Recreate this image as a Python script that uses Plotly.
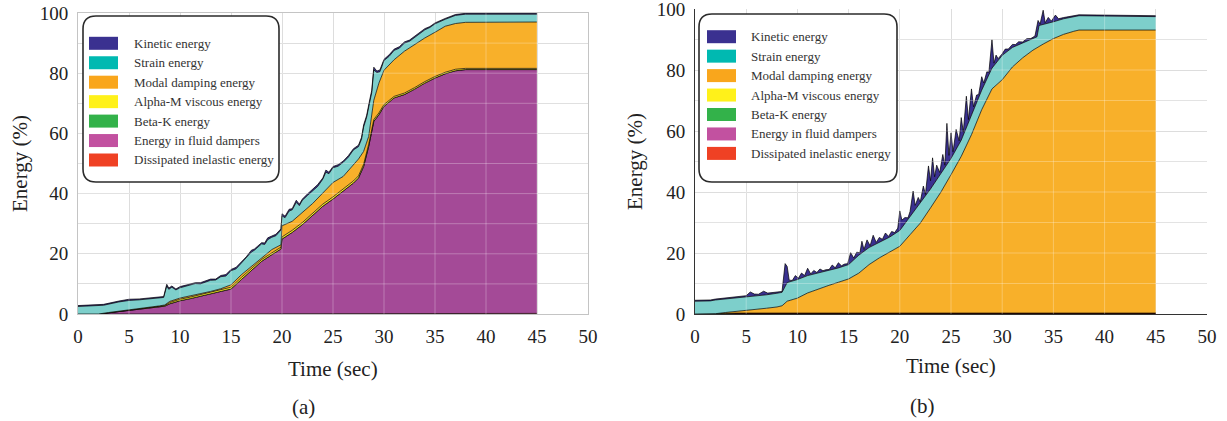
import numpy as np
import plotly.graph_objects as go

# ---------------- data: panel (a) ----------------
t_a = [0, 1, 2, 3, 4, 5, 6, 7, 8, 8.5,
       9, 10, 11, 12, 13, 14, 15, 16, 17, 18,
       19, 19.9, 20, 21, 22, 23, 24, 25, 26, 27,
       27.5, 28, 28.5, 29, 29.5, 30, 31, 32, 33, 34,
       35, 36, 37, 38, 45]
inelastic_top_a = [0, 0, 0, 0.1, 0.2, 0.2, 0.2, 0.2, 0.2, 0.2,
                   0.2, 0.2, 0.2, 0.2, 0.2, 0.2, 0.2, 0.2, 0.2, 0.2,
                   0.2, 0.2, 0.2, 0.2, 0.2, 0.2, 0.2, 0.2, 0.2, 0.2,
                   0.2, 0.2, 0.2, 0.2, 0.2, 0.2, 0.2, 0.2, 0.2, 0.2,
                   0.2, 0.2, 0.2, 0.2, 0.2]
fluid_top_a = [0, 0, 0, 0.4, 0.8, 1.1, 1.5, 1.9, 2.3, 2.6,
               3.4, 4.4, 5.1, 5.9, 6.6, 7.5, 8.3, 11.4, 14.5, 17.5,
               19.7, 21.6, 24.9, 27.1, 29.7, 32.7, 35.8, 38.2, 40.8, 43.5,
               45.2, 49.0, 55.7, 64.0, 66.2, 69.0, 71.8, 72.9, 74.7, 76.7,
               78.4, 79.8, 80.8, 81.2, 81.2]
betak_top_a = fluid_top_a
alpham_top_a = [0, 0, 0, 0.4, 0.8, 1.2, 1.6, 2.0, 2.5, 2.8,
                3.8, 4.9, 5.6, 6.4, 7.1, 8.0, 8.9, 12.1, 15.1, 18.1,
                20.3, 22.2, 25.6, 27.8, 30.4, 33.4, 36.5, 38.9, 41.5, 44.2,
                45.9, 49.7, 56.4, 64.6, 66.8, 69.6, 72.3, 73.4, 75.2, 77.2,
                78.9, 80.3, 81.3, 81.6, 81.6]
modal_top_a = [0, 0, 0, 0.5, 0.9, 1.3, 1.7, 2.2, 2.7, 3.0,
               4.2, 5.3, 6.0, 6.8, 7.5, 8.4, 9.7, 13.0, 15.8, 18.6,
               21.4, 23.0, 29.3, 30.8, 33.8, 36.7, 40.2, 43.7, 45.7, 49.6,
               51.5, 54.0, 59.0, 71.0, 76.7, 81.0, 84.5, 87.3, 89.5, 91.7,
               93.6, 95.6, 96.5, 96.9, 97.0]
t_a_fine = [0, 2, 2.5, 4, 5, 6, 7, 8.4, 8.7, 8.9,
            9.2, 9.6, 10, 10.5, 11, 11.5, 12, 12.5, 13, 13.5,
            14, 14.5, 15, 15.5, 16, 16.5, 17, 17.3, 17.6, 18,
            18.3, 18.6, 19, 19.4, 19.9, 20, 20.3, 20.7, 21, 21.4,
            21.7, 22, 22.5, 23, 23.5, 24, 24.3, 24.6, 25, 25.5,
            26, 26.5, 27, 27.5, 27.8, 28, 28.3, 28.6, 28.8, 29,
            29.3, 29.6, 30, 30.5, 31, 31.5, 32, 32.5, 33, 33.5,
            34, 34.5, 35, 36, 37, 38, 45]
strain_top_a = [2.5, 2.7, 2.9, 4.0, 4.5, 4.7, 5.1, 5.5, 9.3, 8.2,
                8.9, 8.0, 8.7, 9.2, 9.5, 10.1, 10.0, 10.5, 11.2, 11.3,
                12.4, 12.6, 14.4, 15.0, 16.8, 18.5, 20.6, 21.2, 22.0, 23.3,
                23.1, 24.7, 25.5, 26.0, 27.9, 32.6, 32.0, 34.2, 34.6, 37.1,
                36.0, 37.8, 39.4, 40.9, 42.4, 44.8, 47.1, 46.6, 48.6, 49.1,
                50.4, 52.1, 54.5, 55.6, 58.1, 62.1, 65.4, 70.4, 73.6, 81.1,
                80.2, 80.5, 84.2, 85.6, 87.6, 88.3, 90.0, 90.6, 91.9, 93.2,
                94.4, 95.2, 96.4, 97.9, 99.2, 99.6, 99.6]
kinetic_a = [0.3, 0.3, 0.3, 0.3, 0.4, 0.3, 0.3, 0.3, 0.6, 0.4,
             0.4, 0.3, 0.4, 0.3, 0.4, 0.3, 0.4, 0.5, 0.4, 0.3,
             0.4, 0.5, 0.4, 0.5, 0.4, 0.5, 0.6, 0.4, 0.5, 0.4,
             0.5, 0.6, 0.4, 0.5, 0.4, 0.7, 0.5, 0.6, 0.4, 0.7,
             0.5, 0.4, 0.5, 0.4, 0.6, 0.4, 0.7, 0.5, 0.4, 0.5,
             0.4, 0.5, 0.4, 0.5, 0.6, 0.7, 0.6, 0.8, 0.7, 0.9,
             0.5, 0.6, 0.4, 0.5, 0.4, 0.5, 0.4, 0.4, 0.4, 0.4,
             0.4, 0.3, 0.3, 0.3, 0.3, 0.3, 0.3]

# ---------------- data: panel (b) ----------------
t_b = [0, 1, 1.5, 2, 3, 4, 5, 6, 7, 8,
       8.5, 9, 10, 11, 12, 13, 14, 15, 16, 17,
       18, 19, 20, 21, 22, 23, 24, 25, 26, 27,
       28, 29, 30, 31, 32, 33, 33.4, 33.6, 34, 35,
       36, 37, 37.5, 45]
inelastic_top_b = [0, 0, 0, 0.1, 0.2, 0.3, 0.3, 0.3, 0.3, 0.3,
                   0.3, 0.3, 0.3, 0.3, 0.3, 0.3, 0.3, 0.3, 0.3, 0.3,
                   0.3, 0.3, 0.3, 0.3, 0.3, 0.3, 0.3, 0.3, 0.3, 0.3,
                   0.3, 0.3, 0.3, 0.3, 0.3, 0.3, 0.3, 0.3, 0.3, 0.3,
                   0.3, 0.3, 0.3, 0.3]
fluid_top_b = inelastic_top_b
betak_top_b = inelastic_top_b
alpham_top_b = inelastic_top_b
modal_top_b = [0, 0, 0, 0.1, 0.5, 0.8, 1.1, 1.5, 1.9, 2.3,
               2.7, 4.2, 5.2, 6.9, 8.2, 9.3, 10.4, 11.5, 13.4, 16.2,
               18.4, 20.2, 22.2, 26.0, 29.8, 34.8, 39.9, 45.7, 51.7, 58.8,
               67.0, 73.8, 76.8, 81.0, 84.0, 86.5, 87.2, 87.6, 88.5, 90.3,
               91.7, 92.7, 93.1, 93.1]
strain_top_b = [4.2, 4.2, 4.3, 4.6, 4.9, 5.2, 5.6, 5.9, 6.3, 6.8,
                7.1, 10.3, 11.3, 12.6, 13.4, 14.2, 15.1, 16.2, 19.3, 21.8,
                23.6, 25.2, 27.4, 31.8, 36.2, 41.0, 46.0, 51.0, 57.0, 65.2,
                73.4, 80.6, 84.8, 87.4, 88.8, 90.2, 90.9, 94.6, 94.9, 95.8,
                96.8, 97.5, 97.8, 97.5]
t_b_fine = [0, 1, 1.5, 2, 3, 4, 5, 5.4, 5.8, 6.2,
            6.7, 7.1, 8, 8.5, 8.8, 9.0, 9.2, 9.5, 9.8, 10.1,
            10.4, 10.7, 11.0, 11.3, 11.6, 11.9, 12.2, 12.5, 12.8, 13.1,
            13.4, 13.7, 14.0, 14.3, 14.6, 14.9, 15.2, 15.5, 15.8, 16.1,
            16.3, 16.5, 16.8, 17.1, 17.4, 17.7, 18.0, 18.3, 18.6, 18.9,
            19.2, 19.5, 19.8, 20.0, 20.2, 20.5, 20.8, 21.0, 21.3, 21.5,
            21.8, 22.0, 22.3, 22.5, 22.8, 23.0, 23.2, 23.4, 23.6, 23.9,
            24.2, 24.4, 24.6, 24.8, 25.0, 25.2, 25.5, 25.8, 26.0, 26.2,
            26.5, 26.7, 27.0, 27.2, 27.5, 27.7, 28.0, 28.2, 28.5, 28.7,
            29.0, 29.2, 29.4, 29.6, 30.0, 30.3, 30.6, 31.0, 31.3, 31.6,
            32.0, 32.4, 32.8, 33.2, 33.5, 33.7, 34.0, 34.2, 34.5, 34.8,
            35.2, 35.5, 36.0, 36.5, 37.0, 37.5, 45]
kinetic_b = [0.3, 0.3, 0.3, 0.3, 0.3, 0.3, 0.4, 1.5, 0.7, 0.5,
             1.3, 0.5, 0.3, 0.3, 7.5, 5.3, 0.6, 0.2, 1.5, 0.3,
             1.6, 0.4, 2.4, 0.3, 1.2, 0.3, 1.2, 0.4, 0.5, 0.3,
             1.5, 0.3, 1.7, 0.4, 0.6, 0.4, 3.3, 0.6, 1.6, 0.5,
             3.8, 0.6, 3.0, 0.4, 3.3, 0.4, 1.5, 0.4, 2.0, 0.4,
             1.4, 0.4, 1.2, 6.4, 2.5, 2.0, 0.6, 1.8, 7.2, 1.6,
             2.9, 0.6, 4.3, 0.6, 8.5, 2.7, 9.2, 2.0, 4.8, 0.9,
             5.3, 0.8, 13.5, 2.0, 8.4, 1.0, 6.5, 1.0, 7.4, 1.0,
             10.3, 1.0, 8.6, 1.1, 2.5, 1.0, 4.4, 0.9, 2.4, 0.8,
             9.3, 0.8, 2.6, 0.6, 0.5, 1.3, 0.5, 1.0, 0.5, 1.0,
             0.4, 0.9, 0.4, 0.6, 3.5, 0.4, 4.7, 0.4, 1.9, 0.4,
             2.0, 0.5, 0.4, 0.4, 0.3, 0.3, 0.3]

legend_names = ["Kinetic energy", "Strain energy", "Modal damping energy",
                "Alpha-M viscous energy", "Beta-K energy",
                "Energy in fluid dampers", "Dissipated inelastic energy"]
legend_colors = ["#3a3190", "#00b9b1", "#f9a61c", "#fff11a", "#33b24a",
                 "#c251a0", "#ef4124"]
area_colors = {"Kinetic energy": "#3a3190", "Strain energy": "#7dcfcb",
               "Modal damping energy": "#f8b02a",
               "Alpha-M viscous energy": "#fcee21", "Beta-K energy": "#33b14b",
               "Energy in fluid dampers": "#a44a97",
               "Dissipated inelastic energy": "#ee4023"}

x_ticks = [0, 5, 10, 15, 20, 25, 30, 35, 40, 45, 50]
y_ticks = [0, 20, 40, 60, 80, 100]

W, H = 1227, 421
FONT = "Liberation Serif"


def px(x):
    return x / W


def py(y):
    return 1 - y / H


fig = go.Figure()


def add_panel(xa, ya, layers):
    first = True
    for name, xs, ys in layers:
        fig.add_trace(go.Scatter(
            x=xs, y=ys, name=name, mode="lines",
            line=dict(color="black", width=0.7),
            fill="tozeroy" if first else "tonexty",
            fillcolor=area_colors[name], showlegend=False,
            xaxis=xa, yaxis=ya, hoverinfo="skip"))
        first = False


top_a = (np.array(strain_top_a) + np.array(kinetic_a)).tolist()
add_panel("x", "y", [
    ("Dissipated inelastic energy", t_a, inelastic_top_a),
    ("Energy in fluid dampers", t_a, fluid_top_a),
    ("Beta-K energy", t_a, betak_top_a),
    ("Alpha-M viscous energy", t_a, alpham_top_a),
    ("Modal damping energy", t_a, modal_top_a),
    ("Strain energy", t_a_fine, strain_top_a),
    ("Kinetic energy", t_a_fine, top_a),
])

strain_at_fine_b = np.interp(t_b_fine, t_b, strain_top_b)
top_b = (strain_at_fine_b + np.array(kinetic_b)).tolist()
add_panel("x2", "y2", [
    ("Dissipated inelastic energy", t_b, inelastic_top_b),
    ("Energy in fluid dampers", t_b, fluid_top_b),
    ("Beta-K energy", t_b, betak_top_b),
    ("Alpha-M viscous energy", t_b, alpham_top_b),
    ("Modal damping energy", t_b, modal_top_b),
    ("Strain energy", t_b, strain_top_b),
    ("Kinetic energy", t_b_fine, top_b),
])

axis_common = dict(showgrid=True, gridcolor="#d8d8d8", gridwidth=1,
                   zeroline=False, ticks="", automargin=False,
                   ticklabeloverflow="allow",
                   tickfont=dict(family=FONT, size=19, color="#222"))

fig.update_layout(
    template="none",
    width=W, height=H, margin=dict(l=0, r=0, t=0, b=0, autoexpand=False),
    paper_bgcolor="white", plot_bgcolor="white", showlegend=False,
    xaxis=dict(domain=[px(78), px(588)], range=[0, 50], tickvals=x_ticks,
               anchor="y", showline=True, mirror=True, linecolor="#c4c4c4",
               ticklabelstandoff=5, **axis_common),
    yaxis=dict(domain=[py(314), py(13)], range=[0, 100], tickvals=y_ticks,
               anchor="x", showline=True, mirror=True, linecolor="#c4c4c4",
               minor=dict(dtick=10, showgrid=True, gridcolor="#d8d8d8"),
               ticklabelstandoff=5, **axis_common),
    xaxis2=dict(domain=[px(695), px(1207)], range=[0, 50], tickvals=x_ticks,
                anchor="y2", showline=True, mirror=False, linecolor="#333",
                ticklabelstandoff=5, **axis_common),
    yaxis2=dict(domain=[py(314), py(9)], range=[0, 100], tickvals=y_ticks,
                anchor="x2", showline=True, mirror=False, linecolor="#333",
                minor=dict(dtick=10, showgrid=True, gridcolor="#d8d8d8"),
                ticklabelstandoff=5, **axis_common),
)

shapes = []
# faint grid visible through the filled areas
for xr, yr in (("x", "y"), ("x2", "y2")):
    for xv in x_ticks[1:-1]:
        shapes.append(dict(type="line", xref=xr, yref=yr, x0=xv, x1=xv, y0=0,
                           y1=100, layer="above",
                           line=dict(color="rgba(255,255,255,0.28)", width=1)))
    for yv in range(10, 100, 10):
        shapes.append(dict(type="line", xref=xr, yref=yr, x0=0, x1=50, y0=yv,
                           y1=yv, layer="above",
                           line=dict(color="rgba(255,255,255,0.28)", width=1)))


def rounded_box(x0, y0, x1, y1, r):
    rx, ry = r / W, r / H
    X0, X1, Y0, Y1 = px(x0), px(x1), py(y0), py(y1)
    return (f"M{X0 + rx},{Y0} L{X1 - rx},{Y0} Q{X1},{Y0} {X1},{Y0 - ry} "
            f"L{X1},{Y1 + ry} Q{X1},{Y1} {X1 - rx},{Y1} L{X0 + rx},{Y1} "
            f"Q{X0},{Y1} {X0},{Y1 + ry} L{X0},{Y0 - ry} Q{X0},{Y0} {X0 + rx},{Y0} Z")


annotations = []
for (bx0, by0, bx1, by1, sw_x0, sy0, tx) in ((83, 16, 279, 182, 89, 43.3, 132),
                                            (699, 14, 897, 182, 707, 36.7, 749)):
    shapes.append(dict(type="path", xref="paper", yref="paper",
                       path=rounded_box(bx0, by0, bx1, by1, 13), layer="above",
                       fillcolor="white", line=dict(color="#2b2b2b", width=1.6)))
    for i, (nm, col) in enumerate(zip(legend_names, legend_colors)):
        cy = sy0 + i * 19.45
        shapes.append(dict(type="rect", xref="paper", yref="paper",
                           x0=px(sw_x0), x1=px(sw_x0 + 29), y0=py(cy + 6.5),
                           y1=py(cy - 6.5), fillcolor=col, layer="above",
                           line=dict(width=0)))
        annotations.append(dict(xref="paper", yref="paper", x=px(tx), y=py(cy),
                                text=nm, showarrow=False, xanchor="left",
                                yanchor="middle",
                                font=dict(family=FONT, size=13, color="#333")))

for txt, x, y, ang in (("Energy (%)", 20, 164, -90), ("Time (sec)", 333, 369, 0),
                       ("(a)", 303, 407, 0), ("Energy (%)", 635, 162, -90),
                       ("Time (sec)", 951, 366, 0), ("(b)", 922, 406, 0)):
    annotations.append(dict(xref="paper", yref="paper", x=px(x), y=py(y),
                            text=txt, showarrow=False, textangle=ang,
                            xanchor="center", yanchor="middle",
                            font=dict(family=FONT, size=21, color="#222")))

fig.update_layout(shapes=shapes, annotations=annotations)
fig.write_html("out.html", config={"displayModeBar": False},
               post_script="document.body.style.margin='0';"
                           "document.body.style.overflow='hidden';")
